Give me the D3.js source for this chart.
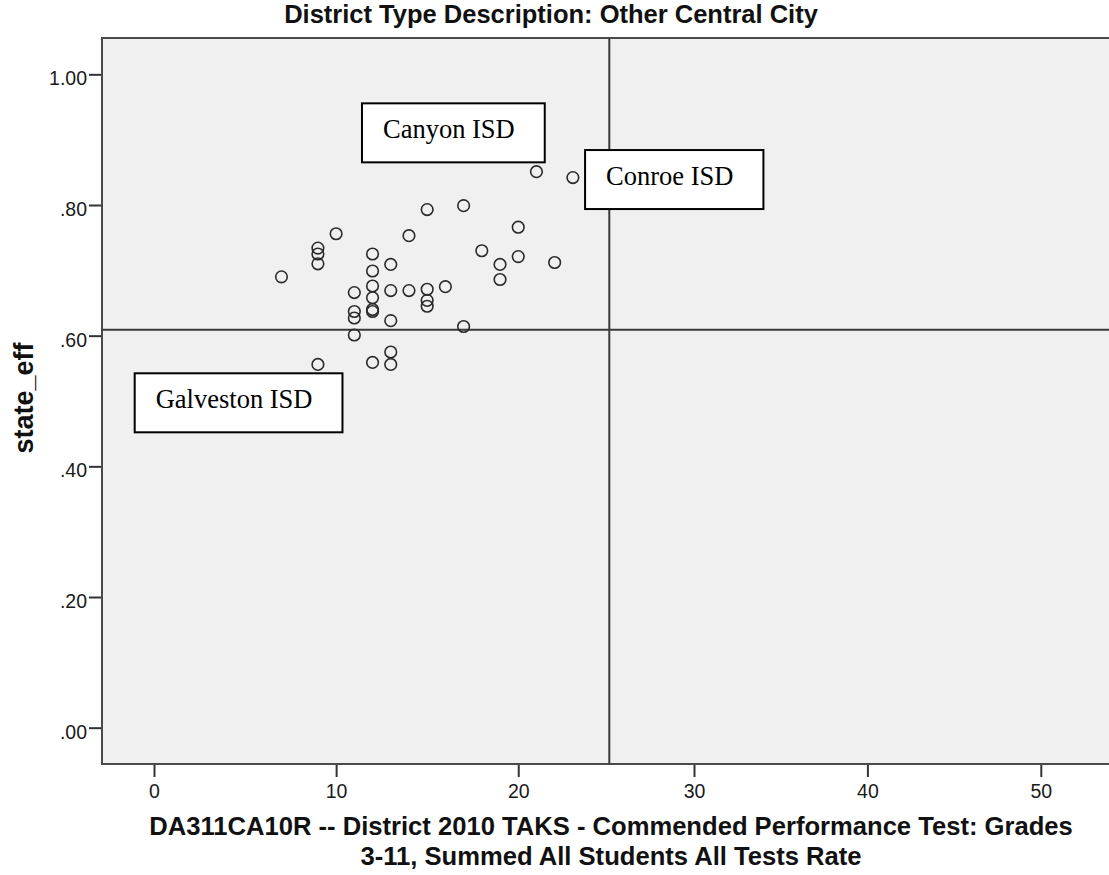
<!DOCTYPE html>
<html>
<head>
<meta charset="utf-8">
<script src="https://cdn.jsdelivr.net/npm/d3@7"></script>
<style>
  html, body { margin: 0; padding: 0; background: #ffffff; }
  svg { display: block; }
</style>
</head>
<body>
<svg id="chart" width="1109" height="875"></svg>
<script>
// ---------------- data ----------------
const chartTitle = "District Type Description: Other Central City";
const xTitleLines = [
  "DA311CA10R -- District 2010 TAKS - Commended Performance Test: Grades",
  "3-11, Summed All Students All Tests Rate"
];
const yTitle = "state_eff";

const xTickValues = [0, 10, 20, 30, 40, 50];
const xTickLabels = ["0", "10", "20", "30", "40", "50"];
const yTickValues = [0, 0.2, 0.4, 0.6, 0.8, 1.0];
const yTickLabels = [".00", ".20", ".40", ".60", ".80", "1.00"];

// the reference's x axis is drawn with uneven spacing: a piecewise (polylinear) scale
const xDomain = [-2.855, 25, 30, 60];
const yDomain = [-0.0556, 1.0556];

const refLineX = 25;
const refLineY = 0.609;

// commended performance rate (x) and state_eff (y) per district
const commendedRate = [
  7,
  9, 9, 9,
  10,
  12, 12, 12, 12, 12, 12, 12,
  11, 11, 11, 11,
  13, 13, 13, 13, 13,
  9,
  14, 14,
  15, 15, 15, 15,
  16,
  17, 17,
  18,
  19, 19,
  20, 20,
  21,
  22,
  23
];
const stateEff = [
  0.690,
  0.734, 0.725, 0.710,
  0.756,
  0.725, 0.699, 0.676, 0.658, 0.640, 0.637, 0.559,
  0.666, 0.637, 0.627, 0.601,
  0.709, 0.669, 0.623, 0.575, 0.556,
  0.556,
  0.669, 0.753,
  0.793, 0.671, 0.654, 0.645,
  0.675,
  0.799, 0.614,
  0.730,
  0.709, 0.686,
  0.766, 0.721,
  0.851,
  0.712,
  0.842
];

// text box annotations (top-left corner of each box, in data units)
const annotationLabels = ["Canyon ISD", "Conroe ISD", "Galveston ISD"];
const annotationX = [11.42, 23.67, -1.06];
const annotationY = [0.9556, 0.8841, 0.5424];

// ---------------- layout ----------------
const sans = "'Liberation Sans', Arial, Helvetica, sans-serif";
const serif = "'Liberation Serif', 'Times New Roman', serif";
const plotBox = { left: 102, top: 38, bottom: 764 };

const svg = d3.select("#chart");

const x = d3.scaleLinear().domain(xDomain).range([plotBox.left, 609.3, 694, 1214.2]);
const y = d3.scaleLinear().domain(yDomain).range([plotBox.bottom, plotBox.top]);
const plotRight = x(xDomain[xDomain.length - 1]);

// plot background + frame
svg.append("rect")
  .attr("x", plotBox.left).attr("y", plotBox.top)
  .attr("width", plotRight - plotBox.left)
  .attr("height", plotBox.bottom - plotBox.top)
  .attr("fill", "#f0f0f0")
  .attr("stroke", "#4a4a4a")
  .attr("stroke-width", 2);

// reference lines
svg.append("line")
  .attr("x1", x(refLineX)).attr("x2", x(refLineX))
  .attr("y1", plotBox.top).attr("y2", plotBox.bottom)
  .attr("stroke", "#3a3a3a").attr("stroke-width", 2);
svg.append("line")
  .attr("x1", plotBox.left).attr("x2", plotRight)
  .attr("y1", y(refLineY)).attr("y2", y(refLineY))
  .attr("stroke", "#3a3a3a").attr("stroke-width", 2);

// x axis
const xAxis = d3.axisBottom(x)
  .tickValues(xTickValues)
  .tickFormat((d, i) => xTickLabels[i])
  .tickSize(12)
  .tickPadding(7);
const gx = svg.append("g")
  .attr("transform", `translate(0,${plotBox.bottom + 1})`)
  .call(xAxis);
gx.select(".domain").remove();
gx.selectAll(".tick line").attr("stroke", "#333").attr("stroke-width", 2);
gx.selectAll(".tick text")
  .attr("fill", "#1a1a1a")
  .style("font-family", sans)
  .style("font-size", "19.5px");

// y axis
const yAxis = d3.axisLeft(y)
  .tickValues(yTickValues)
  .tickFormat((d, i) => yTickLabels[i])
  .tickSize(12)
  .tickPadding(2);
const gy = svg.append("g")
  .attr("transform", `translate(${plotBox.left - 1},0)`)
  .call(yAxis);
gy.select(".domain").remove();
gy.selectAll(".tick line").attr("stroke", "#333").attr("stroke-width", 2);
gy.selectAll(".tick text")
  .attr("fill", "#1a1a1a")
  .attr("dy", "0.54em")
  .style("font-family", sans)
  .style("font-size", "19.5px");

// points
const points = commendedRate.map((v, i) => ({ x: v, y: stateEff[i] }));
svg.append("g").selectAll("circle")
  .data(points)
  .join("circle")
  .attr("cx", d => x(d.x))
  .attr("cy", d => y(d.y))
  .attr("r", 5.8)
  .attr("fill", "none")
  .attr("stroke", "#2a2a2a")
  .attr("stroke-width", 1.6);

// annotation boxes
annotationLabels.forEach((label, i) => {
  const g = svg.append("g")
    .attr("transform", `translate(${x(annotationX[i])},${y(annotationY[i])})`);
  const rect = g.append("rect")
    .attr("fill", "#ffffff")
    .attr("stroke", "#000000")
    .attr("stroke-width", 2);
  const t = g.append("text")
    .attr("x", 21).attr("y", 35)
    .attr("fill", "#000")
    .style("font-family", serif)
    .style("font-size", "26.5px")
    .text(label);
  const w = t.node().getComputedTextLength();
  rect.attr("width", w + 51).attr("height", 59);
});

// chart title
svg.append("text")
  .attr("x", 551).attr("y", 23)
  .attr("text-anchor", "middle")
  .attr("fill", "#111")
  .style("font-family", sans)
  .style("font-weight", "bold")
  .style("font-size", "25.5px")
  .text(chartTitle);

// x axis title (two separate lines)
xTitleLines.forEach((line, i) => {
  svg.append("text")
    .attr("x", 611)
    .attr("y", 835 + i * 30)
    .attr("text-anchor", "middle")
    .attr("fill", "#111")
    .style("font-family", sans)
    .style("font-weight", "bold")
    .style("font-size", "25.6px")
    .text(line);
});

// y axis title
svg.append("text")
  .attr("transform", `translate(33,${(plotBox.top + plotBox.bottom) / 2 - 3}) rotate(-90)`)
  .attr("text-anchor", "middle")
  .attr("fill", "#111")
  .style("font-family", sans)
  .style("font-weight", "bold")
  .style("font-size", "27px")
  .text(yTitle);
</script>
</body>
</html>
